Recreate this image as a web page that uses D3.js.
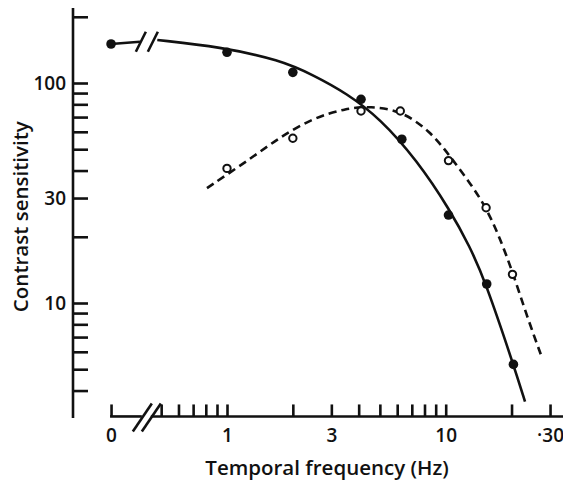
<!DOCTYPE html>
<html><head><meta charset="utf-8">
<script src="https://cdn.jsdelivr.net/npm/d3@7"></script>
<style>
body{margin:0;background:#fff}
svg{display:block;background:#fff}
text{font-family:"Open Sans",Lato,sans-serif;fill:#111}
</style>
</head><body>
<svg id="chart" width="563" height="481"></svg>
<script>
// ---- data ----
const filledFreq = [0, 1, 2, 4.1, 6.3, 10.3, 15.4, 20.4];
const filledSens = [150.4, 137.9, 111.8, 84.3, 55.5, 25.1, 12.2, 5.26];
const openFreq   = [1, 2, 4.1, 6.2, 10.3, 15.3, 20.2];
const openSens   = [40.9, 56.1, 74.6, 74.6, 44.4, 27.1, 13.5];

// fitted curves (hand-drawn in the original)
const solidZeroFreq = [0, 0.40];
const solidZeroSens = [150.4, 154];
const solidFitFreq = [0.48, 0.93, 1.75, 2.48, 3.53, 5.0, 7.37, 10.46, 12.9, 15.1, 20.4, 23.05];
const solidFitSens = [156.8, 146, 127.2, 108.7, 89.7, 69.1, 44.7, 26.5, 18.0, 12.7, 5.26, 3.56];
const dashFitFreq = [0.81, 1.315, 1.75, 2.47, 3.54, 4.51, 6.18, 8.48, 10.35, 12.65, 15.29, 17.7, 20.3, 23.5, 27.6];
const dashFitSens = [33.3, 46.1, 56.8, 69.3, 77.0, 78.2, 75.4, 60.5, 47.1, 36.2, 27.3, 19.7, 13.7, 8.73, 5.62];

// axes
const xTickValues = [0, 0.5, 0.6, 0.7, 0.8, 0.9, 1, 2, 3, 4, 5, 6, 7, 8, 9, 10, 20, 30];
const xTickLabels = {0: "0", 1: "1", 3: "3", 10: "10", 30: "·30"};
const yTickValues = [200, 100, 90, 80, 70, 60, 50, 40, 30, 20, 10, 9, 8, 7, 6, 5, 4];
const yTickLabels = {100: "100", 30: "30", 10: "10"};
const xTitle = "Temporal frequency (Hz)";
const yTitle = "Contrast sensitivity";

// ---- layout ----
const ZERO_POS = 0.295;   // where the "0 Hz" point sits left of the axis break
const BREAK_F = 0.43;     // frequency position of the axis break
const Y_TOP = 219, Y_BOTTOM = 3.0, X_AXIS_V = 3.05;

const x = d3.scaleLog().domain([1, 10]).range([227, 445.7]);
const y = d3.scaleLog().domain([10, 100]).range([303, 83]);
const xp = f => f === 0 ? x(ZERO_POS) : x(f);

const svg = d3.select("#chart");
const ink = "#111";
const SW = 2.6;
const FONT_TICK = 19, FONT_TITLE = 20.5, FW = 600;

// Y axis
const yAxisX = 73;
const gy = svg.append("g").attr("transform", `translate(${yAxisX},0)`)
  .call(d3.axisLeft(y).tickValues(yTickValues).tickSizeInner(-15).tickSizeOuter(0).tickPadding(7)
    .tickFormat(d => yTickLabels[d] || ""));
gy.select(".domain").remove();
gy.selectAll(".tick line").attr("stroke", ink).attr("stroke-width", SW);
gy.selectAll(".tick text").attr("font-size", FONT_TICK).attr("font-weight", FW).attr("fill", ink);
svg.append("line").attr("x1", yAxisX).attr("x2", yAxisX).attr("y1", y(Y_TOP)).attr("y2", y(Y_BOTTOM))
  .attr("stroke", ink).attr("stroke-width", SW);

// X axis (0 Hz plotted at ZERO_POS, left of the break)
const xAxisY = y(X_AXIS_V);
const xTickPos = xTickValues.map(v => v === 0 ? ZERO_POS : v);
const gx = svg.append("g").attr("transform", `translate(0,${xAxisY})`)
  .call(d3.axisBottom(x).tickValues(xTickPos).tickSizeInner(-12).tickSizeOuter(0).tickPadding(12)
    .tickFormat(d => d === ZERO_POS ? xTickLabels[0] : (xTickLabels[d] || "")));
gx.select(".domain").remove();
gx.selectAll(".tick line").attr("stroke", ink).attr("stroke-width", SW);
gx.selectAll(".tick text").attr("font-size", FONT_TICK).attr("font-weight", FW).attr("fill", ink);
const bx = x(BREAK_F);
svg.append("line").attr("x1", xp(0) - 1).attr("x2", bx - 5).attr("y1", xAxisY).attr("y2", xAxisY)
  .attr("stroke", ink).attr("stroke-width", SW);
svg.append("line").attr("x1", bx + 4).attr("x2", 563).attr("y1", xAxisY).attr("y2", xAxisY)
  .attr("stroke", ink).attr("stroke-width", SW);
// axis break slashes
[-4.5, 4.5].forEach(o => {
  svg.append("line").attr("x1", bx + o - 9.5).attr("y1", xAxisY + 15)
    .attr("x2", bx + o + 9.5).attr("y2", xAxisY - 13)
    .attr("stroke", ink).attr("stroke-width", SW);
});

// titles
svg.append("text").attr("x", 327).attr("y", 475).attr("text-anchor", "middle")
  .attr("font-size", FONT_TITLE).attr("font-weight", FW).text(xTitle);
svg.append("text").attr("transform", `translate(27.5,216.7) rotate(-90)`).attr("text-anchor", "middle")
  .attr("font-size", FONT_TITLE).attr("font-weight", FW).text(yTitle);

// curves
const line = d3.line().x(d => xp(d[0])).y(d => y(d[1])).curve(d3.curveBasis);
const zip = (a, b) => a.map((v, i) => [v, b[i]]);
svg.append("path").attr("d", d3.line().x(d => xp(d[0])).y(d => y(d[1]))(zip(solidZeroFreq, solidZeroSens)))
  .attr("fill", "none").attr("stroke", ink).attr("stroke-width", SW);
svg.append("path").attr("d", line(zip(solidFitFreq, solidFitSens)))
  .attr("fill", "none").attr("stroke", ink).attr("stroke-width", SW);
svg.append("path").attr("d", line(zip(dashFitFreq, dashFitSens)))
  .attr("fill", "none").attr("stroke", ink).attr("stroke-width", SW).attr("stroke-dasharray", "8,5");

// curve break slashes
const cy = y(154);
[-6, 6].forEach(o => {
  svg.append("line").attr("x1", bx + o - 5).attr("y1", cy + 10)
    .attr("x2", bx + o + 5).attr("y2", cy - 10)
    .attr("stroke", ink).attr("stroke-width", SW);
});

// markers
svg.selectAll("circle.filled").data(zip(filledFreq, filledSens)).join("circle")
  .attr("class", "filled").attr("cx", d => xp(d[0])).attr("cy", d => y(d[1])).attr("r", 4.8)
  .attr("fill", ink);
svg.selectAll("circle.open").data(zip(openFreq, openSens)).join("circle")
  .attr("class", "open").attr("cx", d => xp(d[0])).attr("cy", d => y(d[1])).attr("r", 3.7)
  .attr("fill", "#fff").attr("stroke", ink).attr("stroke-width", 2);
</script>
</body></html>
